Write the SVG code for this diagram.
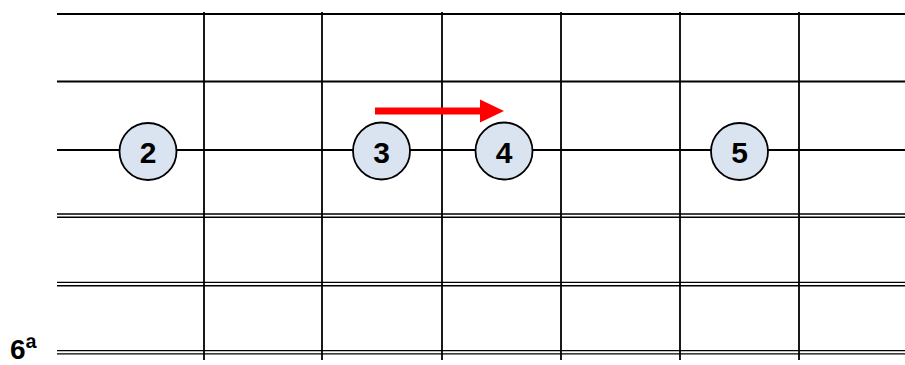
<svg xmlns="http://www.w3.org/2000/svg" width="905" height="365" viewBox="0 0 905 365">
<style>
.s{stroke:#000;stroke-width:1.8;fill:none}
.d{stroke:#000;stroke-width:1.4;fill:none}
.f{stroke:#000;stroke-width:1.8;fill:none}
.n circle{fill:#dae3f0;stroke:#000;stroke-width:1.8}
.n text,.lbl{font-family:"Liberation Sans",Arial,sans-serif;font-weight:bold;font-size:30px;fill:#000;text-anchor:middle}
</style>
<rect width="905" height="365" fill="#fff"/>
<g id="strings">
<line class="s" x1="57" y1="14" x2="905" y2="14"/>
<line class="s" x1="57" y1="81.5" x2="905" y2="81.5"/>
<line class="s" x1="57" y1="150" x2="905" y2="150"/>
<line class="d" x1="57" y1="214" x2="905" y2="214"/>
<line class="d" x1="57" y1="217.3" x2="905" y2="217.3"/>
<line class="d" x1="57" y1="282.4" x2="905" y2="282.4"/>
<line class="d" x1="57" y1="285.7" x2="905" y2="285.7"/>
<line class="d" x1="57" y1="350.6" x2="905" y2="350.6"/>
<line class="d" x1="57" y1="353.9" x2="905" y2="353.9"/>
</g>
<g id="frets">
<line class="f" x1="204" y1="12" x2="204" y2="360"/>
<line class="f" x1="322" y1="12" x2="322" y2="360"/>
<line class="f" x1="442" y1="12" x2="442" y2="360"/>
<line class="f" x1="561" y1="12" x2="561" y2="360"/>
<line class="f" x1="680" y1="12" x2="680" y2="360"/>
<line class="f" x1="799" y1="12" x2="799" y2="360"/>
</g>
<text id="label-6a" class="lbl" x="10" y="359" style="text-anchor:start;font-size:28px">6<tspan style="font-size:30px">ª</tspan></text>
<g id="connectors">
<rect x="375" y="107.5" width="106" height="7" fill="#ff0000"/>
<polygon points="480,99.5 504,111 480,122.5" fill="#ff0000"/>
</g>
<g id="node-2" class="n"><circle cx="148" cy="151.5" r="28.5"/><text x="148" y="162.5">2</text></g>
<g id="node-3" class="n"><circle cx="381.5" cy="151" r="28.5"/><text x="381.5" y="162.5">3</text></g>
<g id="node-4" class="n"><circle cx="504" cy="151" r="28.5"/><text x="504" y="162.5">4</text></g>
<g id="node-5" class="n"><circle cx="739.5" cy="151.5" r="28.5"/><text x="739.5" y="162.5">5</text></g>
</svg>
